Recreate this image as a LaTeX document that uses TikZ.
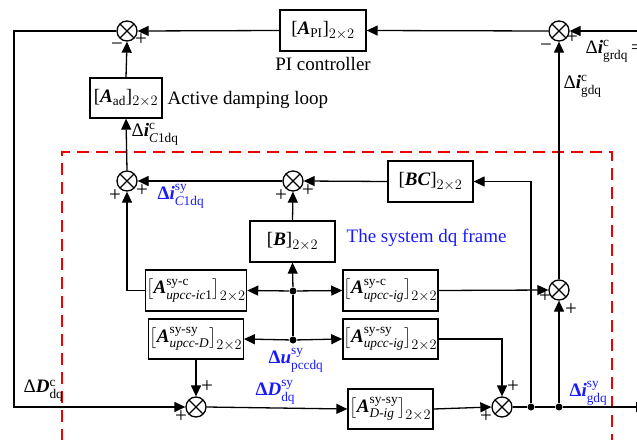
\documentclass[tikz,border=0pt]{standalone}
\usepackage{amsmath}
\usepackage{fontspec}
\setmainfont{Liberation Serif}
\usetikzlibrary{arrows.meta}
\definecolor{lblue}{RGB}{25,25,255}
\definecolor{dred}{RGB}{240,0,0}
\newcommand{\bi}[1]{\text{\bfseries\itshape #1}}
\newcommand{\AM}[2]{$\bigl[\bi{A}^{\text{#1}}_{#2}\bigr]_{2\times 2}$}
\begin{document}
\begin{tikzpicture}[x=1pt,y=-1pt,
  font=\fontsize{19}{22}\selectfont,
  line width=1.3pt,
  arr/.style={-{Triangle[length=11pt,width=10pt]}},
  blk/.style={draw, rectangle, inner sep=1pt, minimum width=85pt, minimum height=41pt},
  sumn/.style={circle, draw, minimum size=20pt, inner sep=0pt,
    path picture={\draw[line width=1.2pt] (path picture bounding box.north west)--(path picture bounding box.south east)
      (path picture bounding box.south west)--(path picture bounding box.north east);}},
  dotn/.style={circle, fill, inner sep=0pt, minimum size=7pt},
  sgn/.style={inner sep=0pt, font=\fontsize{21}{22}\selectfont},
  lbl/.style={anchor=west, inner sep=0pt},
  bl/.style={lbl, text=lblue}
]
\useasboundingbox (0,0) rectangle (637,439);

% red dashed frame
\draw[dred, line width=1.4pt, dash pattern=on 12pt off 7pt] (62,460) -- (62,152) -- (612,152) -- (612,460);

% summing junctions
\node[sumn] (S1) at (127,31) {};
\node[sumn] (S2) at (559,31) {};
\node[sumn] (S3) at (127,181) {};
\node[sumn] (S4) at (293,181) {};
\node[sumn] (S5) at (559,290) {};
\node[sumn] (SD) at (196,407) {};
\node[sumn] (S6) at (502,407) {};

% blocks
\node[blk, minimum width=86pt] (PI) at (323,30.5) {[\bi{A}$_{\text{PI}}$]$_{2\times 2}$};
\node[blk, minimum width=72pt, minimum height=40pt] (AD) at (126,98) {[\bi{A}$_{\text{ad}}$]$_{2\times 2}$};
\node[blk] (BC) at (430.5,181.5) {[\bi{BC}]$_{2\times 2}$};
\node[blk] (B) at (292.5,241.5) {[\bi{B}]$_{2\times 2}$};
\node[blk, minimum width=86pt] (A1) at (196,290.5) {\AM{sy-c}{\textit{upcc-ic}\text{1}}};
\node[blk] (A3) at (390.5,290.5) {\AM{sy-c}{\textit{upcc-ig}}};
\node[blk, minimum width=86pt, minimum height=40pt] (A2) at (196,339) {\AM{sy-sy}{\textit{upcc-D}}};
\node[blk, minimum height=40pt] (A4) at (390.5,339) {\AM{sy-sy}{\textit{upcc-ig}}};
\node[blk, minimum height=40pt] (DG) at (390.5,409) {\AM{sy-sy}{\textit{D-ig}}};

% dots and coordinates
\node[dotn] (J1) at (293,291) {};
\node[dotn] (J2) at (293,340) {};
\node[dotn] (D1) at (531,407) {};
\node[dotn] (D2) at (559,407) {};
\coordinate (TL) at (14,31);
\coordinate (BL) at (14,407);
\coordinate (TR) at (642,31);
\coordinate (BR) at (647,407);

% connectors
\draw[arr] (TR) -- (S2.east);
\draw[arr] (S2.west) -- (PI.east);
\draw[arr] (PI.west) -- (S1.east);
\draw[arr] (S1.west) -- (TL) -- (BL) -- (SD.west);
\draw[arr] (AD.north) -- (S1.south);
\draw[arr] (S3.north) -- (AD.south);
\draw[arr] (S4.west) -- (S3.east);
\draw[arr] (BC.west) -- (S4.east);
\draw[arr] (B.north) -- (S4.south);
\draw (J2) -- (J1);
\draw[arr] (J1) -- (B.south);
\draw[arr] (J1) -- (A1.east);
\draw[arr] (J1) -- (A3.west);
\draw[arr] (J2) -- (A2.east);
\draw[arr] (J2) -- (A4.west);
\draw[arr] (A1.west) -| (S3.south);
\draw[arr] (A2.south) -- (SD.north);
\draw[arr] (A3.east) -- (S5.west);
\draw[arr] (A4.east) -| (S6.north);
\draw[arr] (SD.east) -- (DG.west);
\draw[arr] (DG.east) -- (S6.west);
\draw[arr] (S6.east) -- (D1) -- (D2) -- (BR);
\draw[arr] (D1) |- (BC.east);
\draw[arr] (D2) -- (S5.south);
\draw[arr] (S5.north) -- (S2.south);

% signs
\node[sgn] (m1) at (117,47) {−};
\node[sgn] (p1) at (141,40) {+};
\node[sgn] (m2) at (546,48) {−};
\node[sgn] (p2) at (572,38) {+};
\node[sgn] (p3a) at (115,196) {+};
\node[sgn] (p3b) at (142,191) {+};
\node[sgn] (p4a) at (281,196) {+};
\node[sgn] (p4b) at (308,191) {+};
\node[sgn] (p5a) at (545,297) {+};
\node[sgn] (p5b) at (571,310) {+};
\node[sgn] (pDa) at (207,387) {+};
\node[sgn] (pDb) at (181,417) {+};
\node[sgn] (p6a) at (513,387) {+};
\node[sgn] (p6b) at (486,417) {+};

% texts
\node[inner sep=0pt] (tpi) at (323,64) {PI controller};
\node[lbl] (tad) at (167,100) {Active damping loop};
\node[lbl, text=lblue] (tsys) at (346,238) {The system dq frame};
\node[lbl] (l1) at (131,134) {Δ\bi{i}$^{\text{c}}_{\textit{C}\text{1dq}}$};
\node[bl] (l2) at (157,196) {\textbf{Δ}\bi{i}$^{\text{sy}}_{\textit{C}\text{1dq}}$};
\node[bl] (l3) at (268,360) {\textbf{Δ}\bi{u}$^{\text{sy}}_{\text{pccdq}}$};
\node[bl] (l4) at (255,392) {\textbf{Δ}\bi{D}$^{\text{sy}}_{\text{dq}}$};
\node[lbl] (l5) at (23,391) {Δ\bi{D}$^{\text{c}}_{\text{dq}}$};
\node[bl] (l6) at (569,393) {\textbf{Δ}\bi{i}$^{\text{sy}}_{\text{gdq}}$};
\node[lbl] (l7) at (563,86) {Δ\bi{i}$^{\text{c}}_{\text{gdq}}$};
\node[lbl] (l8) at (585,51) {Δ\bi{i}$^{\text{c}}_{\text{grdq}}$\,=0};
\end{tikzpicture}
\end{document}
